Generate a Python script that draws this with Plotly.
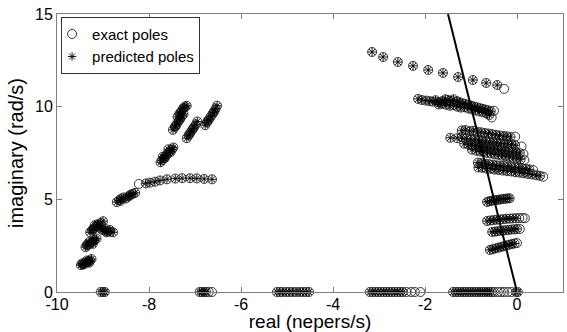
import plotly.graph_objects as go

# ---------------- data (real, imag) ----------------
# top arc (exact + predicted)
arc_real = [-3.15, -2.91, -2.59, -2.26, -1.93, -1.61, -1.28, -0.96, -0.67, -0.43]
arc_imag = [12.95, 12.68, 12.41, 12.20, 11.98, 11.82, 11.60, 11.44, 11.28, 11.17]

# left row near 6 rad/s
row6_real = [-8.07, -7.98, -7.87, -7.76, -7.61, -7.43, -7.28, -7.11, -6.96, -6.80, -6.63]
row6_imag = [5.86, 5.90, 5.95, 6.02, 6.08, 6.12, 6.14, 6.14, 6.13, 6.10, 6.08]

# left clusters
left_real = [-9.48, -9.44, -9.40, -9.36, -9.32, -9.28, -9.25, -9.45, -9.35, -9.30, -9.42, -9.33,
             -9.38, -9.34, -9.30, -9.26, -9.22, -9.18, -9.14, -9.30, -9.22, -9.35, -9.20,
             -9.28, -9.24, -9.20, -9.15, -9.10, -9.05, -9.00, -9.18, -9.08, -9.22, -9.12,
             -9.02, -8.96, -8.90, -8.84, -8.78, -8.95, -8.85, -8.92,
             -8.70, -8.65, -8.60, -8.55, -8.50, -8.45, -8.40, -8.35, -8.30, -8.62, -8.42,
             -7.75, -7.72, -7.68, -7.65, -7.62, -7.58, -7.55, -7.50, -7.47, -7.70, -7.58, -7.66, -7.53,
             -7.48, -7.44, -7.40, -7.36, -7.32, -7.28, -7.25, -7.42, -7.34,
             -7.38, -7.34, -7.30, -7.26, -7.22, -7.18, -7.32, -7.24,
             -7.18, -7.14, -7.10, -7.06, -7.02, -6.98, -6.95, -7.12, -7.04,
             -6.78, -6.74, -6.70, -6.66, -6.62, -6.58, -6.55, -6.52, -6.72, -6.60]
left_imag = [1.45, 1.50, 1.55, 1.60, 1.65, 1.70, 1.78, 1.55, 1.70, 1.58, 1.48, 1.62,
             2.42, 2.50, 2.58, 2.65, 2.72, 2.80, 2.88, 2.70, 2.60, 2.55, 2.78,
             3.22, 3.32, 3.42, 3.52, 3.62, 3.72, 3.82, 3.60, 3.48, 3.38, 3.66,
             3.35, 3.30, 3.28, 3.25, 3.22, 3.40, 3.35, 3.22,
             4.85, 4.95, 5.05, 5.10, 5.05, 5.15, 5.25, 5.30, 5.35, 4.92, 5.20,
             7.00, 7.10, 7.20, 7.30, 7.40, 7.50, 7.60, 7.70, 7.80, 7.30, 7.70, 7.22, 7.55,
             8.75, 8.90, 9.05, 9.20, 9.35, 9.50, 9.60, 8.95, 9.28,
             9.45, 9.60, 9.75, 9.90, 10.00, 10.05, 9.65, 9.92,
             8.30, 8.45, 8.60, 8.75, 8.90, 9.05, 9.20, 8.52, 8.82,
             9.00, 9.15, 9.30, 9.45, 9.60, 9.75, 9.90, 10.05, 9.25, 9.68]

# right streaks
right_real = [-2.15, -2.07, -1.98, -1.90, -1.83, -1.77, -1.72, -1.67, -1.62, -1.56, -1.50, -1.44, -1.38,
              -1.31, -1.25, -1.18, -1.12, -1.05, -0.99, -0.92, -0.86, -0.80, -0.74, -0.68, -0.62, -0.57,
              -1.70, -1.62, -1.54, -1.46, -1.38, -1.30, -1.22, -1.14, -1.06, -0.98, -0.90, -0.82, -0.74,
              -0.66, -0.60,
              -1.20, -1.12, -1.03, -0.95, -0.86, -0.78, -0.70, -0.62, -0.54, -0.46, -0.38, -0.30, -0.22, -0.14,
              -1.45, -1.30, -1.20, -1.10, -1.00, -0.92, -0.84, -0.76, -0.68, -0.60, -0.52, -0.44, -0.36,
              -0.28, -0.20, -0.12, -0.04,
              -1.15, -1.06, -0.98, -0.90, -0.82, -0.74, -0.66, -0.58, -0.50, -0.42, -0.34, -0.26, -0.18,
              -0.10, -0.02, 0.06,
              -0.98, -0.88, -0.80, -0.72, -0.64, -0.56, -0.48, -0.40, -0.32, -0.24, -0.16, -0.08, 0.00, 0.08,
              -0.85, -0.77, -0.69, -0.61, -0.53, -0.45, -0.37, -0.29, -0.21, -0.13, -0.05, 0.03, 0.11, 0.19, 0.27,
              -0.84, -0.75, -0.66, -0.57, -0.48, -0.39, -0.30, -0.21, -0.12, -0.03, 0.06, 0.15, 0.24, 0.33,
              0.42, 0.50,
              -0.65, -0.60, -0.55, -0.50, -0.45, -0.40, -0.35, -0.30, -0.25, -0.20, -0.16,
              -0.65, -0.58, -0.51, -0.44, -0.37, -0.30, -0.23, -0.16, -0.09, -0.02,
              -0.54, -0.48, -0.42, -0.36, -0.30, -0.24, -0.18, -0.12, -0.06, 0.00,
              -0.59, -0.53, -0.47, -0.41, -0.35, -0.29, -0.23, -0.17, -0.11, -0.05]
right_imag = [10.42, 10.36, 10.33, 10.30, 10.27, 10.35, 10.25, 10.22, 10.30, 10.40, 10.36, 10.32, 10.40,
              10.30, 10.25, 10.18, 10.14, 10.10, 10.05, 10.00, 9.96, 9.92, 9.88, 9.84, 9.80, 9.75,
              10.12, 10.15, 10.10, 10.05, 10.08, 10.00, 9.95, 9.97, 9.90, 9.85, 9.80, 9.74, 9.70,
              9.62, 9.55,
              8.72, 8.74, 8.68, 8.70, 8.64, 8.62, 8.58, 8.55, 8.52, 8.48, 8.45, 8.42, 8.40, 8.36,
              8.32, 8.30, 8.35, 8.28, 8.25, 8.22, 8.20, 8.16, 8.14, 8.10, 8.08, 8.05, 8.02,
              8.00, 7.98, 7.95, 7.92,
              8.00, 7.96, 7.92, 7.90, 7.86, 7.84, 7.80, 7.78, 7.74, 7.70, 7.68, 7.64, 7.60,
              7.57, 7.54, 7.50,
              7.68, 7.62, 7.58, 7.55, 7.50, 7.47, 7.42, 7.40, 7.35, 7.32, 7.28, 7.24, 7.20, 7.16,
              6.98, 6.96, 6.92, 6.90, 6.87, 6.84, 6.82, 6.80, 6.77, 6.74, 6.72, 6.70, 6.68, 6.65, 6.62,
              6.72, 6.70, 6.66, 6.64, 6.60, 6.58, 6.55, 6.52, 6.50, 6.46, 6.44, 6.40, 6.37, 6.34,
              6.30, 6.27,
              4.86, 4.90, 4.92, 4.95, 4.96, 4.98, 5.00, 5.02, 5.03, 5.05, 5.06,
              3.83, 3.86, 3.88, 3.90, 3.91, 3.93, 3.95, 3.96, 3.97, 3.98,
              3.24, 3.26, 3.28, 3.30, 3.32, 3.33, 3.35, 3.37, 3.38, 3.40,
              2.27, 2.31, 2.35, 2.39, 2.43, 2.47, 2.51, 2.55, 2.59, 2.62]

# poles on the real axis (imaginary part zero)
axis_real = [-9.05, -9.00, -8.96,
             -6.90, -6.85, -6.80, -6.76,
             -5.22, -5.16, -5.10, -5.02, -4.95, -4.88, -4.80, -4.72, -4.65, -4.58, -4.52,
             -3.20, -3.14, -3.08, -3.02, -2.96, -2.90, -2.84, -2.78, -2.72, -2.66, -2.60, -2.54, -2.48,
             -1.39, -1.33, -1.28, -1.22, -1.17, -1.12, -1.06, -1.01, -0.96, -0.90, -0.85, -0.80,
             -0.75, -0.70, -0.65, -0.60, -0.55, -0.02, 0.02]
axis_imag = [0.0 for _ in axis_real]

# exact poles without a matching prediction
exact_only_real = [-0.28, -8.22, -0.50, -0.55, 0.14, 0.16, 0.10, -0.04, 0.57, 0.35, 0.05, 0.12, 0.17,
                   0.06, 0.00,
                   -6.70, -6.63, -2.40, -2.30, -2.22, -2.10, -0.50, -0.42, -0.35, -0.28, -0.20, -0.12]
exact_only_imag = [10.96, 5.83, 9.78, 9.42, 7.45, 7.12, 7.85, 8.38, 6.22, 6.58, 3.99, 3.99, 3.98,
                   3.40, 2.64,
                   0.0, 0.0, 0.0, 0.0, 0.0, 0.0, 0.0, 0.0, 0.0, 0.0, 0.0, 0.0]

# damping line
line_real = [0.0, -1.5]
line_imag = [0.0, 15.0]

# tick labels
x_ticks = [-10, -8, -6, -4, -2, 0]
y_ticks = [0, 5, 10, 15]

pred_real = arc_real + row6_real + left_real + right_real + axis_real
pred_imag = arc_imag + row6_imag + left_imag + right_imag + axis_imag
exact_real = pred_real + exact_only_real
exact_imag = pred_imag + exact_only_imag

FONT = "Arial, Liberation Sans, sans-serif"
AX = "#808080"

fig = go.Figure()
fig.add_trace(go.Scatter(
    x=exact_real, y=exact_imag, mode="markers", name="exact poles",
    marker=dict(symbol="circle-open", size=9, color="#222222", line=dict(width=0.9)),
    cliponaxis=False))
fig.add_trace(go.Scatter(
    x=pred_real, y=pred_imag, mode="markers", name="predicted poles",
    marker=dict(symbol="asterisk-open", size=7, color="#000000", line=dict(width=0.9)),
    cliponaxis=False))
fig.add_trace(go.Scatter(
    x=line_real, y=line_imag, mode="lines", showlegend=False,
    line=dict(color="black", width=2)))

fig.update_layout(
    width=567, height=332,
    margin=dict(l=57, r=4, t=14, b=40),
    paper_bgcolor="white", plot_bgcolor="white",
    font=dict(family=FONT, size=15, color="black"),
    showlegend=True,
    legend=dict(x=0.008, y=0.99, xanchor="left", yanchor="top",
                bordercolor="#333333", borderwidth=1, bgcolor="white",
                font=dict(family=FONT, size=15), tracegroupgap=0,
                itemwidth=30, indentation=-10),
    xaxis=dict(range=[-10, 1], tickvals=x_ticks, ticktext=[str(t) for t in x_ticks],
               showgrid=False, zeroline=False, showline=True, linecolor=AX, linewidth=1,
               mirror="ticks", ticks="inside", ticklen=5, tickcolor=AX,
               tickfont=dict(size=16), automargin=False, ticklabelstandoff=-2,
               title=dict(text="real (nepers/s)", font=dict(size=19), standoff=2)),
    yaxis=dict(range=[0, 15], tickvals=y_ticks, ticktext=[str(t) for t in y_ticks],
               showgrid=False, zeroline=False, showline=True, linecolor=AX, linewidth=1,
               mirror="ticks", ticks="inside", ticklen=5, tickcolor=AX,
               tickfont=dict(size=16), automargin=False,
               title=dict(text="imaginary (rad/s)", font=dict(size=20), standoff=6)),
)

fig.write_html("out.html", config={"displayModeBar": False},
               post_script="document.body.style.margin='0';")
